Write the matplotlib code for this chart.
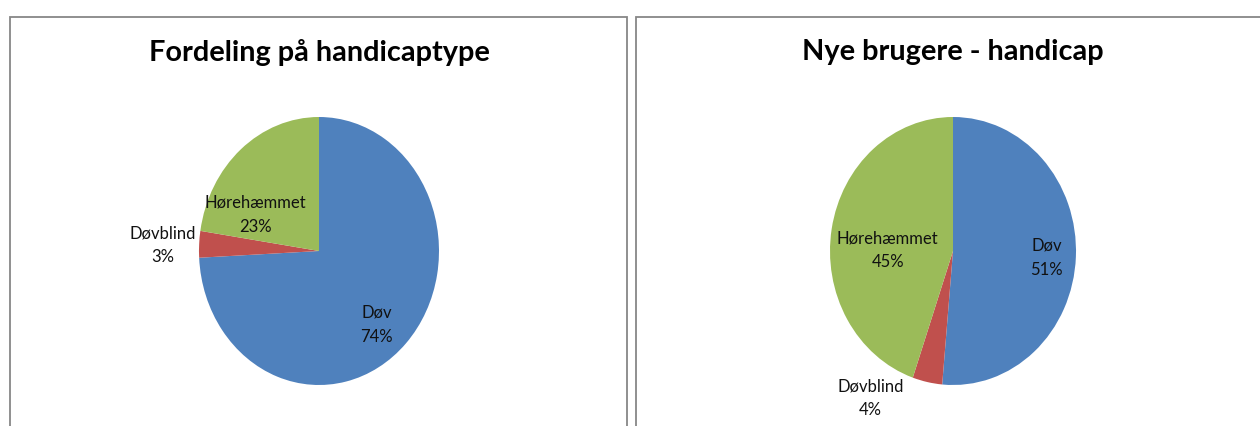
import matplotlib
matplotlib.use("Agg")
import matplotlib.pyplot as plt
from matplotlib.patches import Rectangle

plt.rcParams['font.family'] = ['Lato', 'DejaVu Sans']

# ---- data ----
categories = ["Døv", "Døvblind", "Hørehæmmet"]
left_title = "Fordeling på handicaptype"
left_values = [74.2, 3.2, 22.6]
left_pct = ["74%", "3%", "23%"]
right_title = "Nye brugere - handicap"
right_values = [51.4, 3.9, 44.7]
right_pct = ["51%", "4%", "45%"]

# ---- style ----
colors = ["#4F81BD", "#C0504D", "#9BBB59"]
W, H = 1260, 426
fig = plt.figure(figsize=(W / 100, H / 100), dpi=100)
fig.patch.set_facecolor("white")

def px_axes(cx, cy, rx, ry):
    return fig.add_axes([(cx - rx) / W, (H - (cy + ry)) / H, 2 * rx / W, 2 * ry / H])

# panel borders
for (x0, x1) in [(10, 627), (636, 1262)]:
    fig.patches.append(Rectangle((x0 / W, -0.05), (x1 - x0) / W, (H - 17) / H + 0.05,
                                 transform=fig.transFigure, fill=False,
                                 edgecolor="#878787", linewidth=1.3))

def draw(cx, cy, rx, ry, values, pct, title, label_pos):
    ax = px_axes(cx, cy, rx, ry)
    ax.pie(values, colors=colors, startangle=90, counterclock=False,
           wedgeprops=dict(linewidth=0))
    ax.set_aspect('auto')
    ax.set_xlim(-1, 1)
    ax.set_ylim(-1, 1)
    for name, p, (x, y) in zip(categories, pct, label_pos):
        ax.text(x, y, f"{name}\n{p}", ha="center", va="center", fontsize=12,
                color="#111111", linespacing=1.6)
    fig.text(cx / W, 1 - 52 / H, title, ha="center", va="center",
             fontsize=20.8, fontweight="bold", color="black")

draw(319, 251, 120, 134, left_values, left_pct, left_title,
     [(0.48, -0.55), (-1.30, 0.045), (-0.53, 0.27)])
draw(953, 251, 123, 134, right_values, right_pct, right_title,
     [(0.76, -0.05), (-0.67, -1.10), (-0.53, 0.007)])

fig.savefig("out.png", dpi=100, facecolor="white")
